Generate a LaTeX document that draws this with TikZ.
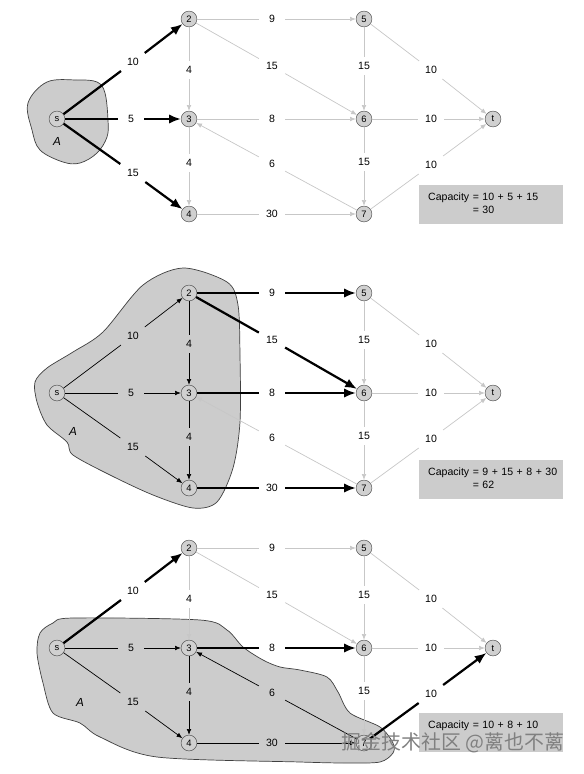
\documentclass[tikz,border=0pt]{standalone}
\usepackage{fontspec}
\setmainfont{Liberation Sans}
\newfontfamily\cjk{Noto Sans CJK SC}
\usetikzlibrary{arrows.meta}

\tikzset{
  vert/.style={circle, draw=black!70, fill=gray!37, inner sep=0pt, minimum size=13.5pt, font=\footnotesize},
  lab/.style={rectangle, inner sep=0pt, minimum width=22pt, minimum height=15pt, font=\small},
  faint/.style={draw=black!22, line width=0.6pt, -{Latex[length=5pt,width=4pt]}},
  inside/.style={draw=black, line width=0.6pt, -{Latex[length=5pt,width=4pt]}},
  cut/.style={draw=black, line width=1.9pt, -{Latex[length=10pt,width=8pt]}},
  blob/.style={fill=gray!40, draw=black!75, line width=0.6pt},
  capbox/.style={fill=gray!40, anchor=north west, minimum width=4.32cm, minimum height=1.17cm,
    text width=3.78cm, inner xsep=0.27cm, inner ysep=0pt, font=\small}
}

% edge split by its capacity label
\newcommand{\flow}[4]{\draw[#1,-] (#2) -- (#3); \draw[#1] (#3) -- (#4);}

% the network, one panel
\newcommand{\netnodes}[1]{%
  % vertices
  \node[vert] (#1s) at (57,119) {s};
  \node[vert] (#12) at (189,19) {2};
  \node[vert] (#13) at (189,119) {3};
  \node[vert] (#14) at (189,214) {4};
  \node[vert] (#15) at (364,19) {5};
  \node[vert] (#16) at (364,119) {6};
  \node[vert] (#17) at (364,214) {7};
  \node[vert] (#1t) at (493,119) {t};
  % capacities
  \node[lab] (#1s2) at (133,62) {10};
  \node[lab] (#1s3) at (131,119) {5};
  \node[lab] (#1s4) at (133,173) {15};
  \node[lab] (#123) at (189,70) {4};
  \node[lab] (#134) at (189,163) {4};
  \node[lab] (#125) at (272,19) {9};
  \node[lab] (#126) at (272,66) {15};
  \node[lab] (#136) at (272,119) {8};
  \node[lab] (#173) at (272,164) {6};
  \node[lab] (#147) at (272,214) {30};
  \node[lab] (#156) at (364,66) {15};
  \node[lab] (#167) at (364,162) {15};
  \node[lab] (#15t) at (431,70) {10};
  \node[lab] (#16t) at (431,119) {10};
  \node[lab] (#17t) at (431,165) {10};
}

\begin{document}
\begin{tikzpicture}[x=0.03cm, y=-0.03cm]

  \useasboundingbox (0,0) rectangle (584,774);

  % Cut sets A
  \draw[blob] plot[smooth cycle, tension=0.6] coordinates {
    (28,103) (47,82) (77,80) (97,82) (105,93) (108,120) (107,137)
    (97,153) (80,163) (63,162) (40,150) (32,130)};
  \draw[blob] plot[smooth cycle, tension=0.5] coordinates {
    (35,382) (47,368) (73,352) (103,332) (143,285) (183,268) (227,282)
    (238,305) (240,355) (240,422) (233,468) (217,502) (193,508) (153,495)
    (110,475) (73,455) (67,442) (47,425) (37,402)};
  \draw[blob] plot[smooth cycle, tension=0.5] coordinates {
    (40,633) (53,623) (73,618) (200,620) (227,630) (243,647) (263,660)
    (280,667) (300,670) (327,677) (338,692) (350,713) (380,727) (393,743)
    (393,753) (380,762) (347,763) (300,762) (157,757) (100,737) (80,723)
    (53,713) (43,683) (37,653)};

  % First cut: A = {s}
  \begin{scope}
    \netnodes{a}
    \node (aA) at (57,141) {\textit{A}};
    \flow{cut}{as}{as2}{a2}
    \flow{cut}{as}{as3}{a3}
    \flow{cut}{as}{as4}{a4}
    \flow{faint}{a2}{a23}{a3}
    \flow{faint}{a3}{a34}{a4}
    \flow{faint}{a2}{a25}{a5}
    \flow{faint}{a2}{a26}{a6}
    \flow{faint}{a3}{a36}{a6}
    \flow{faint}{a7}{a73}{a3}
    \flow{faint}{a4}{a47}{a7}
    \flow{faint}{a5}{a56}{a6}
    \flow{faint}{a6}{a67}{a7}
    \flow{faint}{a5}{a5t}{at}
    \flow{faint}{a6}{a6t}{at}
    \flow{faint}{a7}{a7t}{at}
    \node[capbox] (acap) at (419,185)
      {\begin{tabular}{@{}r@{ }l@{}}Capacity & = 10 + 5 + 15\\ & = 30\end{tabular}};
  \end{scope}

  % Second cut: A = {s,2,3,4}
  \begin{scope}[shift={(0,274)}]
    \netnodes{b}
    \node (bA) at (73,157) {\textit{A}};
    \flow{inside}{bs}{bs2}{b2}
    \flow{inside}{bs}{bs3}{b3}
    \flow{inside}{bs}{bs4}{b4}
    \flow{inside}{b2}{b23}{b3}
    \flow{inside}{b3}{b34}{b4}
    \flow{cut}{b2}{b25}{b5}
    \flow{cut}{b2}{b26}{b6}
    \flow{cut}{b3}{b36}{b6}
    \flow{cut}{b4}{b47}{b7}
    \flow{faint}{b7}{b73}{b3}
    \flow{faint}{b5}{b56}{b6}
    \flow{faint}{b6}{b67}{b7}
    \flow{faint}{b5}{b5t}{bt}
    \flow{faint}{b6}{b6t}{bt}
    \flow{faint}{b7}{b7t}{bt}
    \node[capbox] (bcap) at (419,186)
      {\begin{tabular}{@{}r@{ }l@{}}Capacity & = 9 + 15 + 8 + 30\\ & = 62\end{tabular}};
  \end{scope}

  % Third cut: A = {s,3,4,7}
  \begin{scope}[shift={(0,529)}]
    \netnodes{c}
    \node (cA) at (80,173) {\textit{A}};
    \flow{cut}{cs}{cs2}{c2}
    \flow{inside}{cs}{cs3}{c3}
    \flow{inside}{cs}{cs4}{c4}
    \flow{faint}{c2}{c23}{c3}
    \flow{inside}{c3}{c34}{c4}
    \flow{faint}{c2}{c25}{c5}
    \flow{faint}{c2}{c26}{c6}
    \flow{cut}{c3}{c36}{c6}
    \flow{inside}{c7}{c73}{c3}
    \flow{inside}{c4}{c47}{c7}
    \flow{faint}{c5}{c56}{c6}
    \flow{faint}{c6}{c67}{c7}
    \flow{faint}{c5}{c5t}{ct}
    \flow{faint}{c6}{c6t}{ct}
    \flow{cut}{c7}{c7t}{ct}
    \node[capbox] (ccap) at (419,184)
      {\begin{tabular}{@{}r@{ }l@{}}Capacity & = 10 + 8 + 10\\ & \strut\end{tabular}};
  \end{scope}

  % watermark
  \node[font=\cjk\fontsize{17}{17}\selectfont, text=black!50] (mark) at (453,743) {掘金技术社区 @蓠也不蓠};

\end{tikzpicture}
\end{document}
